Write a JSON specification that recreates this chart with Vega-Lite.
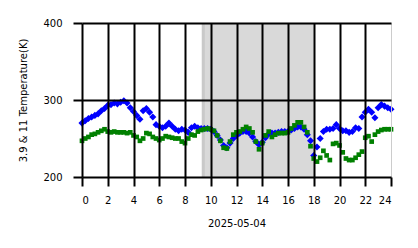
{
  "$schema": "https://vega.github.io/schema/vega-lite/v6.json",
  "width": 309,
  "height": 154,
  "autosize": "none",
  "padding": {"left": 82, "top": 23, "right": 27, "bottom": 71},
  "config": {
    "view": {"stroke": null},
    "font": "DejaVu Sans",
    "axis": {"labelFont": "DejaVu Sans", "titleFont": "DejaVu Sans", "labelColor": "#000000", "titleColor": "#000000"}
  },
  "resolve": {"scale": {"color": "independent"}},
  "datasets": {
    "shade": [
      {"start": 9.3, "end": 9.55, "lo": 200, "hi": 400, "part": "edge"},
      {"start": 9.55, "end": 18.0, "lo": 200, "hi": 400, "part": "main"}
    ],
    "temps": [
      {"h": 0.0, "s": "3.9", "T": 270}, {"h": 0.25, "s": "3.9", "T": 273}, {"h": 0.5, "s": "3.9", "T": 276}, {"h": 0.75, "s": "3.9", "T": 278},
      {"h": 1.0, "s": "3.9", "T": 280}, {"h": 1.25, "s": "3.9", "T": 282}, {"h": 1.5, "s": "3.9", "T": 286}, {"h": 1.75, "s": "3.9", "T": 289},
      {"h": 2.0, "s": "3.9", "T": 293}, {"h": 2.25, "s": "3.9", "T": 294}, {"h": 2.5, "s": "3.9", "T": 296}, {"h": 2.75, "s": "3.9", "T": 295},
      {"h": 3.0, "s": "3.9", "T": 297}, {"h": 3.25, "s": "3.9", "T": 299}, {"h": 3.5, "s": "3.9", "T": 296}, {"h": 3.75, "s": "3.9", "T": 290},
      {"h": 4.0, "s": "3.9", "T": 285}, {"h": 4.25, "s": "3.9", "T": 280}, {"h": 4.5, "s": "3.9", "T": 275}, {"h": 4.75, "s": "3.9", "T": 286},
      {"h": 5.0, "s": "3.9", "T": 289}, {"h": 5.25, "s": "3.9", "T": 284}, {"h": 5.5, "s": "3.9", "T": 278}, {"h": 5.75, "s": "3.9", "T": 268},
      {"h": 6.0, "s": "3.9", "T": 266}, {"h": 6.25, "s": "3.9", "T": 264}, {"h": 6.5, "s": "3.9", "T": 266}, {"h": 6.75, "s": "3.9", "T": 270},
      {"h": 7.0, "s": "3.9", "T": 266}, {"h": 7.25, "s": "3.9", "T": 262}, {"h": 7.5, "s": "3.9", "T": 260}, {"h": 7.75, "s": "3.9", "T": 262},
      {"h": 8.0, "s": "3.9", "T": 261}, {"h": 8.25, "s": "3.9", "T": 258}, {"h": 8.5, "s": "3.9", "T": 264}, {"h": 8.75, "s": "3.9", "T": 266},
      {"h": 9.0, "s": "3.9", "T": 264}, {"h": 9.25, "s": "3.9", "T": 263}, {"h": 9.5, "s": "3.9", "T": 263}, {"h": 9.75, "s": "3.9", "T": 263},
      {"h": 10.0, "s": "3.9", "T": 262}, {"h": 10.25, "s": "3.9", "T": 259}, {"h": 10.5, "s": "3.9", "T": 254}, {"h": 10.75, "s": "3.9", "T": 248},
      {"h": 11.0, "s": "3.9", "T": 241}, {"h": 11.25, "s": "3.9", "T": 238}, {"h": 11.5, "s": "3.9", "T": 244}, {"h": 11.75, "s": "3.9", "T": 250},
      {"h": 12.0, "s": "3.9", "T": 254}, {"h": 12.25, "s": "3.9", "T": 257}, {"h": 12.5, "s": "3.9", "T": 259}, {"h": 12.75, "s": "3.9", "T": 259},
      {"h": 13.0, "s": "3.9", "T": 257}, {"h": 13.25, "s": "3.9", "T": 252}, {"h": 13.5, "s": "3.9", "T": 246}, {"h": 13.75, "s": "3.9", "T": 242},
      {"h": 14.0, "s": "3.9", "T": 245}, {"h": 14.25, "s": "3.9", "T": 251}, {"h": 14.5, "s": "3.9", "T": 256}, {"h": 14.75, "s": "3.9", "T": 257},
      {"h": 15.0, "s": "3.9", "T": 257}, {"h": 15.25, "s": "3.9", "T": 258}, {"h": 15.5, "s": "3.9", "T": 259}, {"h": 15.75, "s": "3.9", "T": 259},
      {"h": 16.0, "s": "3.9", "T": 259}, {"h": 16.25, "s": "3.9", "T": 261}, {"h": 16.5, "s": "3.9", "T": 263}, {"h": 16.75, "s": "3.9", "T": 265},
      {"h": 17.0, "s": "3.9", "T": 265}, {"h": 17.25, "s": "3.9", "T": 262}, {"h": 17.5, "s": "3.9", "T": 255}, {"h": 17.75, "s": "3.9", "T": 247},
      {"h": 18.0, "s": "3.9", "T": 228}, {"h": 18.25, "s": "3.9", "T": 239}, {"h": 18.5, "s": "3.9", "T": 250}, {"h": 18.75, "s": "3.9", "T": 259},
      {"h": 19.0, "s": "3.9", "T": 262}, {"h": 19.25, "s": "3.9", "T": 262}, {"h": 19.5, "s": "3.9", "T": 263}, {"h": 19.75, "s": "3.9", "T": 268},
      {"h": 20.0, "s": "3.9", "T": 263}, {"h": 20.25, "s": "3.9", "T": 260}, {"h": 20.5, "s": "3.9", "T": 260}, {"h": 20.75, "s": "3.9", "T": 258},
      {"h": 21.0, "s": "3.9", "T": 259}, {"h": 21.25, "s": "3.9", "T": 264}, {"h": 21.5, "s": "3.9", "T": 263}, {"h": 21.75, "s": "3.9", "T": 278},
      {"h": 22.0, "s": "3.9", "T": 284}, {"h": 22.25, "s": "3.9", "T": 288}, {"h": 22.5, "s": "3.9", "T": 284}, {"h": 22.75, "s": "3.9", "T": 277},
      {"h": 23.0, "s": "3.9", "T": 290}, {"h": 23.25, "s": "3.9", "T": 294}, {"h": 23.5, "s": "3.9", "T": 292}, {"h": 23.75, "s": "3.9", "T": 290},
      {"h": 24.0, "s": "3.9", "T": 288},
      {"h": 0.0, "s": "11", "T": 247}, {"h": 0.25, "s": "11", "T": 250}, {"h": 0.5, "s": "11", "T": 252}, {"h": 0.75, "s": "11", "T": 255},
      {"h": 1.0, "s": "11", "T": 256}, {"h": 1.25, "s": "11", "T": 258}, {"h": 1.5, "s": "11", "T": 260}, {"h": 1.75, "s": "11", "T": 262},
      {"h": 2.0, "s": "11", "T": 259}, {"h": 2.25, "s": "11", "T": 258}, {"h": 2.5, "s": "11", "T": 259}, {"h": 2.75, "s": "11", "T": 258},
      {"h": 3.0, "s": "11", "T": 258}, {"h": 3.25, "s": "11", "T": 258}, {"h": 3.5, "s": "11", "T": 257}, {"h": 3.75, "s": "11", "T": 258},
      {"h": 4.0, "s": "11", "T": 254}, {"h": 4.25, "s": "11", "T": 252}, {"h": 4.5, "s": "11", "T": 247}, {"h": 4.75, "s": "11", "T": 250},
      {"h": 5.0, "s": "11", "T": 257}, {"h": 5.25, "s": "11", "T": 256}, {"h": 5.5, "s": "11", "T": 252}, {"h": 5.75, "s": "11", "T": 250},
      {"h": 6.0, "s": "11", "T": 248}, {"h": 6.25, "s": "11", "T": 250}, {"h": 6.5, "s": "11", "T": 253}, {"h": 6.75, "s": "11", "T": 252},
      {"h": 7.0, "s": "11", "T": 251}, {"h": 7.25, "s": "11", "T": 250}, {"h": 7.5, "s": "11", "T": 250}, {"h": 7.75, "s": "11", "T": 246},
      {"h": 8.0, "s": "11", "T": 244}, {"h": 8.25, "s": "11", "T": 250}, {"h": 8.5, "s": "11", "T": 255}, {"h": 8.75, "s": "11", "T": 254},
      {"h": 9.0, "s": "11", "T": 259}, {"h": 9.25, "s": "11", "T": 261}, {"h": 9.5, "s": "11", "T": 262}, {"h": 9.75, "s": "11", "T": 263},
      {"h": 10.0, "s": "11", "T": 262}, {"h": 10.25, "s": "11", "T": 260}, {"h": 10.5, "s": "11", "T": 254}, {"h": 10.75, "s": "11", "T": 247},
      {"h": 11.0, "s": "11", "T": 238}, {"h": 11.25, "s": "11", "T": 237}, {"h": 11.5, "s": "11", "T": 246}, {"h": 11.75, "s": "11", "T": 255},
      {"h": 12.0, "s": "11", "T": 258}, {"h": 12.25, "s": "11", "T": 259}, {"h": 12.5, "s": "11", "T": 262}, {"h": 12.75, "s": "11", "T": 265},
      {"h": 13.0, "s": "11", "T": 263}, {"h": 13.25, "s": "11", "T": 258}, {"h": 13.5, "s": "11", "T": 246}, {"h": 13.75, "s": "11", "T": 236},
      {"h": 14.0, "s": "11", "T": 244}, {"h": 14.25, "s": "11", "T": 254}, {"h": 14.5, "s": "11", "T": 259}, {"h": 14.75, "s": "11", "T": 252},
      {"h": 15.0, "s": "11", "T": 255}, {"h": 15.25, "s": "11", "T": 257}, {"h": 15.5, "s": "11", "T": 257}, {"h": 15.75, "s": "11", "T": 257},
      {"h": 16.0, "s": "11", "T": 258}, {"h": 16.25, "s": "11", "T": 263}, {"h": 16.5, "s": "11", "T": 267}, {"h": 16.75, "s": "11", "T": 271},
      {"h": 17.0, "s": "11", "T": 271}, {"h": 17.25, "s": "11", "T": 265}, {"h": 17.5, "s": "11", "T": 258}, {"h": 17.75, "s": "11", "T": 240},
      {"h": 18.0, "s": "11", "T": 224}, {"h": 18.25, "s": "11", "T": 220}, {"h": 18.5, "s": "11", "T": 225}, {"h": 18.75, "s": "11", "T": 234},
      {"h": 19.0, "s": "11", "T": 228}, {"h": 19.25, "s": "11", "T": 222}, {"h": 19.5, "s": "11", "T": 243}, {"h": 19.75, "s": "11", "T": 244},
      {"h": 20.0, "s": "11", "T": 241}, {"h": 20.25, "s": "11", "T": 232}, {"h": 20.5, "s": "11", "T": 224}, {"h": 20.75, "s": "11", "T": 222},
      {"h": 21.0, "s": "11", "T": 222}, {"h": 21.25, "s": "11", "T": 225}, {"h": 21.5, "s": "11", "T": 229}, {"h": 21.75, "s": "11", "T": 233},
      {"h": 22.0, "s": "11", "T": 251}, {"h": 22.25, "s": "11", "T": 253}, {"h": 22.5, "s": "11", "T": 246}, {"h": 22.75, "s": "11", "T": 255},
      {"h": 23.0, "s": "11", "T": 259}, {"h": 23.25, "s": "11", "T": 261}, {"h": 23.5, "s": "11", "T": 262}, {"h": 23.75, "s": "11", "T": 262},
      {"h": 24.0, "s": "11", "T": 262}
    ]
  },
  "layer": [
    {
      "data": {"name": "shade"},
      "mark": {"type": "rect"},
      "encoding": {
        "x": {
          "field": "start", "type": "quantitative",
          "scale": {"domain": [0, 24], "nice": false, "zero": false},
          "axis": {
            "values": [0, 2, 4, 6, 8, 10, 12, 14, 16, 18, 20, 22, 24],
            "labelOverlap": false,
            "grid": true,
            "gridColor": {"condition": {"test": "datum.value == 24", "value": "#cccccc"}, "value": "#000000"},
            "gridWidth": {"condition": {"test": "datum.value == 24", "value": 1}, "value": 2},
            "gridOpacity": 1,
            "domain": false,
            "tickColor": "#000000", "tickWidth": 2, "tickSize": 9,
            "labelFontSize": 10, "labelPadding": 9,
            "title": "2025-05-04", "titleFontSize": 10, "titleFontWeight": "normal", "titlePadding": 13,
            "zindex": 1
          }
        },
        "x2": {"field": "end"},
        "y": {
          "field": "lo", "type": "quantitative",
          "scale": {"domain": [200, 400], "nice": false, "zero": false},
          "axis": {
            "values": [200, 300, 400],
            "labelOverlap": false,
            "grid": true, "gridColor": "#000000", "gridWidth": 2, "gridOpacity": 1,
            "domain": false,
            "tickColor": "#000000", "tickWidth": 2, "tickSize": 9,
            "labelFontSize": 10, "labelPadding": 11,
            "title": "3.9 & 11 Temperature(K)", "titleFontSize": 10, "titleFontWeight": "normal", "titlePadding": 14,
            "zindex": 1
          }
        },
        "y2": {"field": "hi"},
        "color": {"field": "part", "type": "nominal", "scale": {"domain": ["edge", "main"], "range": ["#c9c9c9", "#d9d9d9"]}, "legend": null}
      }
    },
    {
      "data": {"name": "temps"},
      "mark": {"type": "point", "filled": true, "opacity": 1, "strokeWidth": 0},
      "encoding": {
        "x": {
          "field": "h", "type": "quantitative",
          "scale": {"domain": [0, 24], "nice": false, "zero": false},
          "axis": {
            "values": [0, 2, 4, 6, 8, 10, 12, 14, 16, 18, 20, 22, 24],
            "labelOverlap": false,
            "grid": true,
            "gridColor": {"condition": {"test": "datum.value == 24", "value": "#cccccc"}, "value": "#000000"},
            "gridWidth": {"condition": {"test": "datum.value == 24", "value": 1}, "value": 2},
            "gridOpacity": 1,
            "domain": false,
            "tickColor": "#000000", "tickWidth": 2, "tickSize": 9,
            "labelFontSize": 10, "labelPadding": 9,
            "title": "2025-05-04", "titleFontSize": 10, "titleFontWeight": "normal", "titlePadding": 13,
            "zindex": 1
          }
        },
        "y": {
          "field": "T", "type": "quantitative",
          "scale": {"domain": [200, 400], "nice": false, "zero": false},
          "axis": {
            "values": [200, 300, 400],
            "labelOverlap": false,
            "grid": true, "gridColor": "#000000", "gridWidth": 2, "gridOpacity": 1,
            "domain": false,
            "tickColor": "#000000", "tickWidth": 2, "tickSize": 9,
            "labelFontSize": 10, "labelPadding": 11,
            "title": "3.9 & 11 Temperature(K)", "titleFontSize": 10, "titleFontWeight": "normal", "titlePadding": 14,
            "zindex": 1
          }
        },
        "color": {"field": "s", "type": "nominal", "scale": {"domain": ["3.9", "11"], "range": ["#0000ff", "#008000"]}, "legend": null},
        "shape": {"field": "s", "type": "nominal", "scale": {"domain": ["3.9", "11"], "range": ["diamond", "square"]}, "legend": null},
        "size": {"field": "s", "type": "nominal", "scale": {"domain": ["3.9", "11"], "range": [50, 22]}, "legend": null}
      }
    }
  ]
}
